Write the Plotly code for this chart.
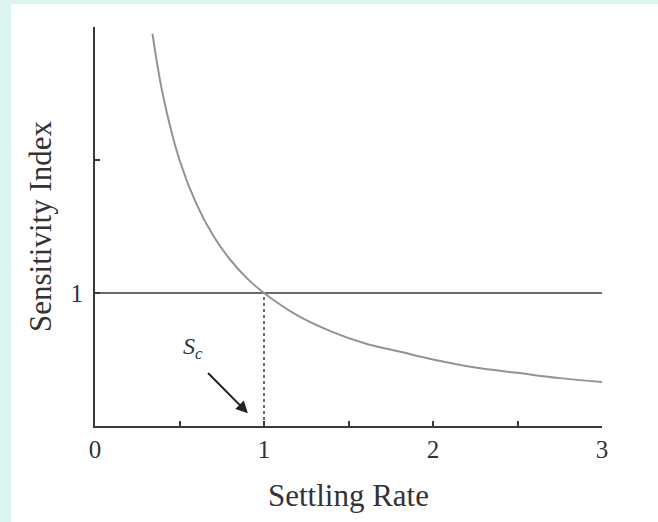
import plotly.graph_objects as go

# Curve
rate = [0.34, 0.40, 0.50, 0.60, 0.70, 0.80, 0.90, 1.00, 1.20, 1.40, 1.60, 1.80, 2.00, 2.25, 2.50, 2.75, 3.00]
index = [2.95, 2.50, 2.00, 1.67, 1.43, 1.25, 1.11, 1.00, 0.83, 0.71, 0.62, 0.56, 0.50, 0.44, 0.40, 0.36, 0.33]

ref_x = [0, 3]
ref_y = [1, 1]
sc_x = [1, 1]
sc_y = [0, 1]

x_ticks = [0, 1, 2, 3]
x_labels = ["0", "1", "2", "3"]
x_minor = [0.5, 1.5, 2.5]
y_ticks = [1]
y_labels = ["1"]
y_minor = [2, 3]

FONT = "Liberation Serif"
DARK = "#3a3a3a"

fig = go.Figure()
fig.add_trace(go.Scatter(x=ref_x, y=ref_y, mode="lines",
                         line=dict(color=DARK, width=1.6), hoverinfo="skip"))
fig.add_trace(go.Scatter(x=sc_x, y=sc_y, mode="lines",
                         line=dict(color=DARK, width=1.5, dash="dot"), hoverinfo="skip"))
fig.add_trace(go.Scatter(x=rate, y=index, mode="lines", line_shape="spline",
                         line=dict(color="#939393", width=2), hoverinfo="skip"))

fig.add_annotation(x=0.905, y=0.095, ax=0.66, ay=0.41, xref="x", yref="y", axref="x", ayref="y",
                   text="", showarrow=True, arrowhead=2, arrowsize=1.2, arrowwidth=2, arrowcolor="#222")
fig.add_annotation(x=0.58, y=0.59, xref="x", yref="y", showarrow=False,
                   text="<i>S</i><sub><i>c</i></sub>", font=dict(family=FONT, size=24, color="#333"))

# cyan frame on left and top
fig.add_shape(type="rect", xref="paper", yref="paper", x0=-0.19, x1=-0.1657, y0=-0.3, y1=1.08,
              fillcolor="#dcf4f1", line_width=0, layer="below")
fig.add_shape(type="rect", xref="paper", yref="paper", x0=-0.19, x1=1.2, y0=1.0576, y1=1.08,
              fillcolor="#dcf4f1", line_width=0, layer="below")

fig.update_layout(
    width=658, height=522,
    margin=dict(l=95, r=56, t=27, b=96, autoexpand=False),
    paper_bgcolor="white", plot_bgcolor="white",
    showlegend=False,
    font=dict(family=FONT, color="#333"),
)
fig.update_xaxes(range=[0, 3], tickvals=x_ticks, ticktext=x_labels, ticks="inside", ticklen=5,
                 tickwidth=1.5, tickcolor=DARK, showline=True, linecolor=DARK, linewidth=2,
                 minor=dict(tickvals=x_minor, ticks="inside", ticklen=5, tickwidth=1.5, tickcolor=DARK),
                 showgrid=False, zeroline=False, tickfont=dict(family=FONT, size=25, color="#333"),
                 title=dict(text="Settling Rate", font=dict(family=FONT, size=31, color="#333"), standoff=22))
fig.update_yaxes(range=[0, 3], tickvals=y_ticks, ticktext=y_labels, ticks="inside", ticklen=5,
                 tickwidth=1.5, tickcolor=DARK, showline=True, linecolor=DARK, linewidth=2,
                 minor=dict(tickvals=y_minor, ticks="inside", ticklen=5, tickwidth=1.5, tickcolor=DARK),
                 ticklabelstandoff=5,
                 showgrid=False, zeroline=False, tickfont=dict(family=FONT, size=25, color="#333"),
                 title=dict(text="Sensitivity Index", font=dict(family=FONT, size=31, color="#333"), standoff=10))

fig.write_html("out.html", config={"displayModeBar": False},
               post_script="document.body.style.margin='0';")
